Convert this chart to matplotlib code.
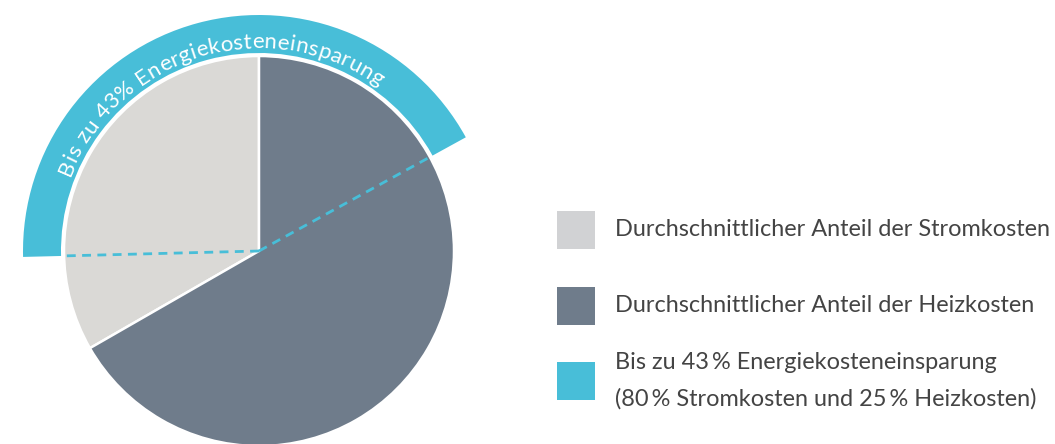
import numpy as np
import matplotlib
from matplotlib import pyplot as plt
from matplotlib.patches import Wedge, Rectangle
from matplotlib.font_manager import FontProperties
from matplotlib.textpath import TextToPath

matplotlib.use("Agg")

# average share of energy costs (percent of the circle)
cost_labels = [
    "Durchschnittlicher Anteil der Stromkosten",
    "Durchschnittlicher Anteil der Heizkosten",
]
cost_shares = [33.3, 66.7]
# part of each slice covered by the savings arc (percent of the circle)
saving_shares = [25.4, 17.0]
saving_label = [
    "Bis zu 43\u2009% Energiekosteneinsparung",
    "(80\u2009% Stromkosten und 25\u2009% Heizkosten)",
]
arc_text = "Bis zu 43% Energiekosteneinsparung"

strom_color = "#dad9d6"
heiz_color = "#6f7c8b"
cyan = "#48bed8"
legend_gray = "#d1d2d4"
text_color = "#444444"

W, H = 1055, 444
fig = plt.figure(figsize=(W / 100, H / 100), dpi=100)
ax = fig.add_axes([0, 0, 1, 1])

cx, cy = 259, 193
R = 195

ax.pie(
    cost_shares,
    colors=[strom_color, heiz_color],
    startangle=90,
    counterclock=True,
    center=(cx, cy),
    radius=R,
    wedgeprops=dict(edgecolor="white", linewidth=1.8),
)

# savings ring
t1 = 90 - saving_shares[1] * 3.6
t2 = 90 + saving_shares[0] * 3.6
ax.add_patch(Wedge((cx, cy), 236, t1, t2, width=38, facecolor=cyan, edgecolor="none"))

# dashed borders of the savings part
for ang in (t1, t2):
    a = np.deg2rad(ang)
    ax.plot([cx, cx + (R - 2) * np.cos(a)], [cy, cy + (R - 2) * np.sin(a)],
            color=cyan, lw=2.0, linestyle=(0, (3.2, 2.3)), solid_capstyle="butt")

# curved label on the ring
arc_size = 16
fp = FontProperties(family=["Lato", "DejaVu Sans"], weight="normal", size=arc_size)
t2p = TextToPath()
widths = []
for ch in arc_text:
    if ch == " ":
        widths.append(0.26 * arc_size * 100 / 72)
    else:
        w, _, _ = t2p.get_text_width_height_descent(ch, fp, ismath=False)
        widths.append(w * 100 / 72)
r_txt = 203
a_start, a_end = 158.5, 54.0
arc_len = r_txt * np.deg2rad(a_start - a_end)
track = (arc_len - sum(widths)) / (len(arc_text) - 1)
s = 0
for ch, w in zip(arc_text, widths):
    ang = np.deg2rad(a_start) - (s + w / 2) / r_txt
    ax.text(cx + r_txt * np.cos(ang), cy + r_txt * np.sin(ang), ch,
            rotation=np.rad2deg(ang) - 90, rotation_mode="anchor",
            ha="center", va="baseline", color="white", fontproperties=fp)
    s += w + track

# legend
leg_fp = FontProperties(family=["Lato", "DejaVu Sans"], weight="normal", size=16.9)
box_x, box = 557, 38
items = [
    (legend_gray, [cost_labels[0]], 230),
    (heiz_color, [cost_labels[1]], 306),
    (cyan, saving_label, 381),
]
for col, lines, yc in items:
    ax.add_patch(Rectangle((box_x, H - yc - box / 2), box, box, facecolor=col, edgecolor="none"))
    y0 = yc - (len(lines) - 1) * 36.5 / 2
    for i, line in enumerate(lines):
        ax.text(615, H - (y0 + i * 36.5), line, ha="left", va="center",
                color=text_color, fontproperties=leg_fp)

ax.set_xlim(0, W)
ax.set_ylim(0, H)
ax.set_aspect("equal")
ax.axis("off")
fig.savefig("out.png", dpi=100)
